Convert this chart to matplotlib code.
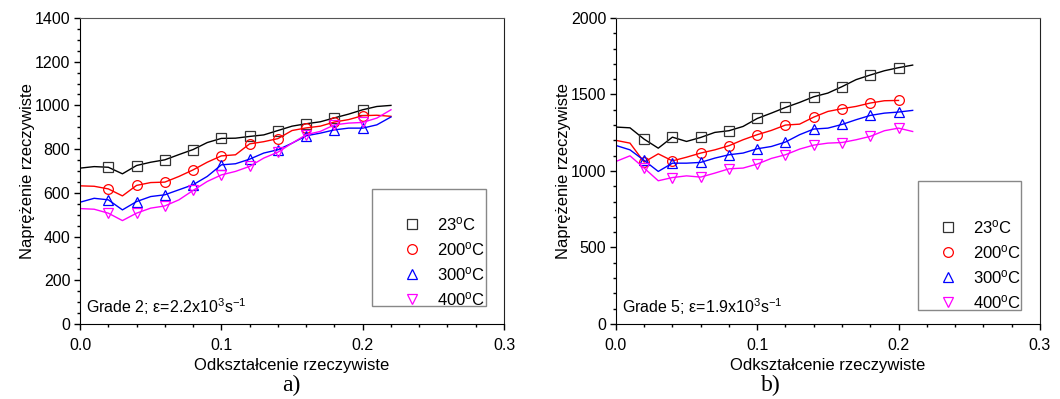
import matplotlib
matplotlib.use("Agg")
import matplotlib.pyplot as plt
from matplotlib.lines import Line2D
from matplotlib.patches import Rectangle
from matplotlib.ticker import MultipleLocator

plt.rcParams["font.family"] = ["Liberation Sans", "DejaVu Sans"]
plt.rcParams["mathtext.fontset"] = "custom"
plt.rcParams["mathtext.rm"] = "Liberation Sans"
plt.rcParams["mathtext.default"] = "regular"

# (odksztalcenie co 0.01)
strain_a = [0.00, 0.01, 0.02, 0.03, 0.04, 0.05, 0.06, 0.07, 0.08, 0.09, 0.10, 0.11,
            0.12, 0.13, 0.14, 0.15, 0.16, 0.17, 0.18, 0.19, 0.20, 0.21, 0.22]
a_23 = [713, 720, 717, 687, 725, 740, 751, 775, 798, 830, 849, 850,
        858, 865, 885, 905, 916, 925, 943, 960, 980, 995, 1000]
a_200 = [632, 630, 618, 586, 634, 647, 649, 675, 705, 740, 769, 774,
         824, 834, 848, 885, 897, 905, 924, 935, 953, 955, 950]
a_300 = [557, 575, 568, 522, 560, 583, 591, 614, 637, 675, 728, 733,
         754, 782, 797, 827, 861, 873, 888, 896, 896, 911, 947]
a_400 = [528, 525, 507, 473, 507, 530, 540, 568, 611, 652, 682, 698,
         721, 759, 786, 827, 866, 881, 911, 919, 922, 942, 980]

strain_b = [0.00, 0.01, 0.02, 0.03, 0.04, 0.05, 0.06, 0.07, 0.08, 0.09, 0.10,
            0.11, 0.12, 0.13, 0.14, 0.15, 0.16, 0.17, 0.18, 0.19, 0.20, 0.21]
b_23 = [1287, 1282, 1208, 1149, 1221, 1193, 1219, 1252, 1263, 1291, 1343,
        1378, 1415, 1448, 1485, 1509, 1551, 1597, 1627, 1655, 1675, 1692]
b_200 = [1200, 1182, 1058, 1112, 1066, 1090, 1117, 1138, 1165, 1204, 1237,
         1265, 1300, 1306, 1352, 1389, 1407, 1422, 1444, 1459, 1461]
b_300 = [1167, 1138, 1069, 997, 1051, 1051, 1056, 1084, 1106, 1117, 1145,
         1160, 1189, 1237, 1274, 1280, 1304, 1335, 1363, 1378, 1385, 1396]
b_400 = [1062, 1099, 1019, 936, 957, 968, 960, 986, 1014, 1019, 1045,
         1082, 1106, 1143, 1169, 1182, 1186, 1204, 1226, 1263, 1280, 1258]

labels = ["23$^{o}$C", "200$^{o}$C", "300$^{o}$C", "400$^{o}$C"]
colors = ["black", "red", "blue", "#ff00ff"]
mcolors = ["#333333", "red", "blue", "#ff00ff"]
markers = ["s", "o", "^", "v"]


def panel(ax, x, series, ymax, ystep, yminor, legbox, legpos, note):
    for y, c, mc, m in zip(series, colors, mcolors, markers):
        ax.plot(x[:len(y)], y, color=c, linewidth=1.0, marker=m, markevery=slice(2, 21, 2),
                markersize=7, markerfacecolor="none", markeredgecolor=mc, markeredgewidth=0.9)
    ax.set_xlim(0, 0.3)
    ax.set_ylim(0, ymax)
    ax.set_xticks([0.0, 0.1, 0.2, 0.3])
    ax.set_xticklabels(["0.0", "0.1", "0.2", "0.3"])
    ax.xaxis.set_minor_locator(MultipleLocator(0.02))
    ax.yaxis.set_major_locator(MultipleLocator(ystep))
    ax.yaxis.set_minor_locator(MultipleLocator(yminor))
    ax.tick_params(which="both", direction="out", top=False, right=False, labelsize=11.5, width=1)
    ax.tick_params(which="major", length=4)
    ax.tick_params(axis="x", which="major", pad=6)
    ax.tick_params(axis="y", which="major", pad=3)
    ax.tick_params(which="minor", length=2.5)
    ax.spines["top"].set_color("#555555")
    ax.spines["right"].set_color("#222222")
    ax.set_xlabel("Odkształcenie rzeczywiste", fontsize=12, labelpad=4)
    ax.set_ylabel("Naprężenie rzeczywiste", fontsize=12, labelpad=0)
    ax.text(0.014, 0.056, note, transform=ax.transAxes, fontsize=11.5, va="center")
    x0, y0, w, h = legbox
    ax.add_patch(Rectangle((x0, y0), w, h, transform=ax.transAxes, fill=False,
                           edgecolor="#888888", linewidth=1.0))
    handles = [Line2D([], [], linestyle="none", marker=m, markersize=7, markerfacecolor="none",
                      markeredgecolor=mc, markeredgewidth=0.9) for m, mc in zip(markers, mcolors)]
    ax.legend(handles, labels, loc="lower left", bbox_to_anchor=legpos,
              frameon=False, fontsize=12, handletextpad=0.5, labelspacing=0.42, borderpad=0.3)


fig = plt.figure(figsize=(10.6, 3.99), dpi=100)
ax1 = fig.add_axes([0.0755, 0.188, 0.400, 0.767])
ax2 = fig.add_axes([0.581, 0.188, 0.400, 0.767])

panel(ax1, strain_a, [a_23, a_200, a_300, a_400], 1400, 200, 50,
      (0.689, 0.059, 0.269, 0.382), (0.712, 0.008), "Grade 2; ε=2.2x10$^{3}$s$^{-1}$")
panel(ax2, strain_b, [b_23, b_200, b_300, b_400], 2000, 500, 100,
      (0.712, 0.046, 0.243, 0.421), (0.713, -0.002), "Grade 5; ε=1.9x10$^{3}$s$^{-1}$")

fig.text(0.275, 0.035, "a)", fontsize=17, family="Liberation Serif", ha="center", va="center")
fig.text(0.727, 0.035, "b)", fontsize=17, family="Liberation Serif", ha="center", va="center")

fig.savefig("out.png", dpi=100)
